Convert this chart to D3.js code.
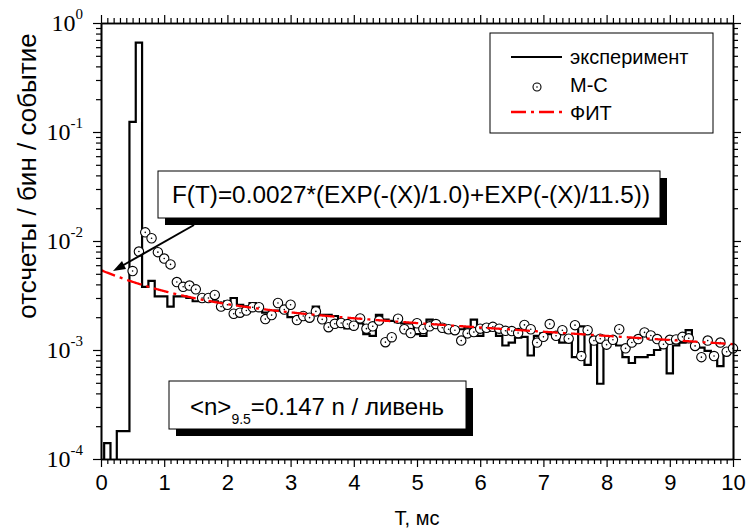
<!DOCTYPE html>
<html>
<head>
<meta charset="utf-8">
<script src="https://cdn.jsdelivr.net/npm/d3@7"></script>
<style>
body { margin: 0; background: #fff; }
text { font-family: "Liberation Sans", Arial, sans-serif; fill: #000; }
.ylab text { font-family: "Liberation Serif", "Times New Roman", serif; }
</style>
</head>
<body>
<div id="chart"></div>
<script>
// histogram bins of 0.1 ms, centred on k/10
var binCentres = d3.range(0, 101).map(function(k) { return k / 10; });
var histValues = [
	0, 1.4e-4, 0, 1.8e-4, 1.8e-4, 0.124, 0.66, 3.8e-3, 4.3e-3, 3.1e-3,
	3.1e-3, 2.5e-3, 3.1e-3, 3.1e-3, 3.0e-3, 2.8e-3, 2.8e-3, 2.9e-3, 2.8e-3, 2.7e-3,
	2.8e-3, 3.0e-3, 2.6e-3, 2.5e-3, 2.7e-3, 2.4e-3, 2.2e-3, 2.1e-3, 2.3e-3, 2.4e-3,
	2.0e-3, 2.0e-3, 2.1e-3, 2.1e-3, 2.5e-3, 2.1e-3, 2.1e-3, 2.05e-3, 1.8e-3, 1.58e-3,
	1.7e-3, 1.75e-3, 1.4e-3, 1.35e-3, 2.1e-3, 1.9e-3, 1.85e-3, 1.8e-3, 1.75e-3, 1.75e-3,
	1.4e-3, 1.35e-3, 1.9e-3, 1.75e-3, 1.7e-3, 1.45e-3, 1.6e-3, 1.55e-3, 1.6e-3, 1.9e-3,
	1.35e-3, 1.5e-3, 1.55e-3, 1.35e-3, 1.1e-3, 1.17e-3, 1.3e-3, 1.32e-3, 8.9e-4, 1.35e-3,
	1.42e-3, 1.4e-3, 1.3e-3, 1.17e-3, 1.3e-3, 8.6e-4, 1.65e-3, 7.3e-4, 1.3e-3, 4.9e-4,
	1.1e-3, 1.25e-3, 1.1e-3, 8.6e-4, 7.6e-4, 8.6e-4, 8.6e-4, 9.0e-4, 1.0e-3, 1.05e-3,
	6.1e-4, 1.1e-3, 1.17e-3, 1.52e-3, 1.1e-3, 1.05e-3, 9.8e-4, 8.6e-4, 7.1e-4, 9.4e-4,
	1.07e-3
];

// Monte-Carlo points
var mcTimes = d3.range(5, 101).map(function(k) { return k / 10; });
var mcValues = [
	5.3e-3, 8.0e-3, 1.2e-2, 1.06e-2, 7.9e-3, 6.9e-3,
	6.1e-3, 4.2e-3, 3.8e-3, 3.9e-3, 3.6e-3, 3.0e-3, 3.0e-3, 3.2e-3, 2.5e-3, 2.6e-3,
	2.15e-3, 2.2e-3, 2.3e-3, 2.47e-3, 2.47e-3, 1.92e-3, 2.09e-3, 2.7e-3, 2.35e-3, 2.6e-3,
	1.88e-3, 2.05e-3, 1.98e-3, 2.26e-3, 1.91e-3, 1.62e-3, 1.74e-3, 1.77e-3, 1.73e-3, 1.67e-3,
	1.95e-3, 1.57e-3, 1.65e-3, 1.86e-3, 1.18e-3, 1.31e-3, 1.94e-3, 1.55e-3, 1.43e-3, 1.76e-3,
	1.56e-3, 1.65e-3, 1.73e-3, 1.6e-3, 1.55e-3, 1.52e-3, 1.22e-3, 1.42e-3, 1.46e-3, 1.57e-3,
	1.6e-3, 1.63e-3, 1.57e-3, 1.5e-3, 1.49e-3, 1.43e-3, 1.7e-3, 1.55e-3, 1.17e-3, 1.32e-3,
	1.73e-3, 1.35e-3, 1.52e-3, 1.27e-3, 1.69e-3, 8.8e-4, 1.52e-3, 1.22e-3, 1.27e-3, 1.12e-3,
	1.24e-3, 1.55e-3, 1.035e-3, 1.17e-3, 1.26e-3, 1.45e-3, 1.36e-3, 1.26e-3, 1.13e-3, 1.24e-3,
	1.25e-3, 1.32e-3, 1.28e-3, 1.09e-3, 8.6e-4, 1.22e-3, 8.8e-4, 1.17e-3, 9.65e-4, 1.035e-3
];

// fit parameters, as printed on the chart
var fitAmp = 0.0027;
var fitTau1 = 1.0;
var fitTau2 = 11.5;

var xTicks = d3.range(0, 11);
var yTicks = [1, 1e-1, 1e-2, 1e-3, 1e-4];
var yExponents = ["0", "-1", "-2", "-3", "-4"];
var legendLabels = ["эксперимент", "М-С", "ФИТ"];
var formulaText = "F(T)=0.0027*(EXP(-(X)/1.0)+EXP(-(X)/11.5))";

var width = 747, height = 528;
var margin = {left: 101, top: 23, right: 14, bottom: 69};
var pw = width - margin.left - margin.right;
var ph = height - margin.top - margin.bottom;

var svg = d3.select("#chart").append("svg")
	.attr("width", width)
	.attr("height", height);

var x = d3.scaleLinear().domain([0, 10]).range([margin.left, margin.left + pw]);
var y = d3.scaleLog().domain([1e-4, 1]).range([margin.top + ph, margin.top]);

svg.append("clipPath").attr("id", "plotclip")
	.append("rect")
	.attr("x", margin.left).attr("y", margin.top)
	.attr("width", pw).attr("height", ph);

function yv(v) {
	return v > 0 ? y(v) : y.range()[0] + 2;
}

// histogram (step line)
var histPts = binCentres.map(function(c, i) { return [c - 0.05, histValues[i]]; });
histPts.push([10.05, histValues[histValues.length - 1]]);

var stepLine = d3.line()
	.x(function(d) { return x(d[0]); })
	.y(function(d) { return yv(d[1]); })
	.curve(d3.curveStepAfter);

svg.append("path")
	.attr("clip-path", "url(#plotclip)")
	.attr("d", stepLine(histPts))
	.attr("fill", "none")
	.attr("stroke", "#000")
	.attr("stroke-width", 2.2);

// M-C circles
var mc = svg.append("g").selectAll("g")
	.data(mcTimes.map(function(t, i) { return [t, mcValues[i]]; }))
	.enter().append("g")
	.attr("transform", function(d) { return "translate(" + x(d[0]) + "," + y(d[1]) + ")"; });
mc.append("circle").attr("r", 4.7).attr("fill", "#fff").attr("stroke", "#000").attr("stroke-width", 1.1);
mc.append("circle").attr("r", 0.8).attr("fill", "#000");

// fit curve
function fitF(t) {
	return fitAmp * (Math.exp(-t / fitTau1) + Math.exp(-t / fitTau2));
}
var fitT = d3.range(0, 1001).map(function(i) { return i / 100; });
svg.append("path")
	.attr("clip-path", "url(#plotclip)")
	.attr("d", d3.line()
		.x(function(t) { return x(t); })
		.y(function(t) { return y(fitF(t)); })(fitT))
	.attr("fill", "none")
	.attr("stroke", "#ff0000")
	.attr("stroke-width", 2.3)
	.attr("stroke-dasharray", "15,5,3,5");

// axes
var xMinor = d3.range(0, 101).filter(function(k) { return k % 10 != 0; }).map(function(k) { return k / 10; });
var yMinor = [];
[1e-4, 1e-3, 1e-2, 1e-1].forEach(function(dec) {
	for (var m = 2; m <= 9; m++) yMinor.push(dec * m);
});

function styleAxis(g) {
	g.select(".domain").attr("stroke-width", 1.6);
	g.selectAll(".tick line").attr("stroke-width", 1.2);
}

var bottomY = margin.top + ph, rightX = margin.left + pw;

svg.append("g").attr("transform", "translate(0," + bottomY + ")")
	.call(d3.axisBottom(x).tickValues(xMinor).tickSize(5).tickSizeOuter(0).tickFormat(""))
	.call(styleAxis);
var xAx = svg.append("g").attr("transform", "translate(0," + bottomY + ")")
	.call(d3.axisBottom(x).tickValues(xTicks).tickSize(8).tickSizeOuter(0).tickPadding(7).tickFormat(d3.format("d")))
	.call(styleAxis);
xAx.selectAll(".tick text").attr("font-size", 22).attr("font-family", "Liberation Sans, Arial, sans-serif").attr("fill", "#000");

svg.append("g").attr("transform", "translate(0," + margin.top + ")")
	.call(d3.axisTop(x).tickValues(xMinor).tickSize(5).tickSizeOuter(0).tickFormat(""))
	.call(styleAxis);
svg.append("g").attr("transform", "translate(0," + margin.top + ")")
	.call(d3.axisTop(x).tickValues(xTicks).tickSize(8).tickSizeOuter(0).tickFormat(""))
	.call(styleAxis);

svg.append("g").attr("transform", "translate(" + margin.left + ",0)")
	.call(d3.axisLeft(y).tickValues(yMinor).tickSize(5).tickSizeOuter(0).tickFormat(""))
	.call(styleAxis);
var yAx = svg.append("g").attr("class", "ylab").attr("transform", "translate(" + margin.left + ",0)")
	.call(d3.axisLeft(y).tickValues(yTicks).tickSize(8).tickSizeOuter(0).tickPadding(10).tickFormat(""))
	.call(styleAxis);
yAx.selectAll(".tick text").each(function(d, i) {
	var t = d3.select(this);
	t.attr("font-size", 24).attr("dy", "0.3em").attr("fill", "#000");
	t.append("tspan").text("10");
	t.append("tspan").attr("font-size", 15).attr("dy", "-0.75em").text(yExponents[i]);
});

svg.append("g").attr("transform", "translate(" + rightX + ",0)")
	.call(d3.axisRight(y).tickValues(yMinor).tickSize(5).tickSizeOuter(0).tickFormat(""))
	.call(styleAxis);
svg.append("g").attr("transform", "translate(" + rightX + ",0)")
	.call(d3.axisRight(y).tickValues(yTicks).tickSize(8).tickSizeOuter(0).tickFormat(""))
	.call(styleAxis);

// axis titles
svg.append("text")
	.attr("x", (margin.left + rightX) / 2)
	.attr("y", 525)
	.attr("text-anchor", "middle")
	.attr("font-size", 20)
	.text("T, мс");

svg.append("text")
	.attr("transform", "translate(36,176) rotate(-90)")
	.attr("text-anchor", "middle")
	.attr("font-size", 26)
	.text("отсчеты / бин / событие");

// legend
var lg = svg.append("g");
lg.append("rect").attr("x", 490).attr("y", 33).attr("width", 223).attr("height", 100)
	.attr("fill", "#fff").attr("stroke", "#000").attr("stroke-width", 1);
lg.append("line").attr("x1", 511).attr("x2", 562).attr("y1", 57).attr("y2", 57)
	.attr("stroke", "#000").attr("stroke-width", 2);
lg.append("circle").attr("cx", 537).attr("cy", 87).attr("r", 4).attr("fill", "#fff")
	.attr("stroke", "#000").attr("stroke-width", 1.1);
lg.append("circle").attr("cx", 537).attr("cy", 87).attr("r", 0.8).attr("fill", "#000");
lg.append("line").attr("x1", 511).attr("x2", 562).attr("y1", 112).attr("y2", 112)
	.attr("stroke", "#ff0000").attr("stroke-width", 2.3).attr("stroke-dasharray", "15,5,3,5");
lg.selectAll("text.lg").data(legendLabels).enter().append("text")
	.attr("x", 570)
	.attr("y", function(d, i) { return 64 + i * 28; })
	.attr("font-size", 20)
	.text(function(d) { return d; });

// formula box with shadow
svg.append("rect").attr("x", 165).attr("y", 178).attr("width", 502).attr("height", 47).attr("fill", "#000");
svg.append("rect").attr("x", 158).attr("y", 171).attr("width", 502).attr("height", 47)
	.attr("fill", "#fff").attr("stroke", "#000").attr("stroke-width", 1);
svg.append("text").attr("x", 172).attr("y", 203).attr("font-size", 23)
	.attr("textLength", 478).attr("lengthAdjust", "spacingAndGlyphs")
	.text(formulaText);

// arrow
svg.append("line").attr("x1", 194).attr("y1", 225).attr("x2", 120).attr("y2", 267)
	.attr("stroke", "#000").attr("stroke-width", 2);
svg.append("path").attr("d", "M113,271 L122,261 L126,269 Z").attr("fill", "#000");

// mean multiplicity box
svg.append("rect").attr("x", 176).attr("y", 388).attr("width", 297).attr("height", 48).attr("fill", "#000");
svg.append("rect").attr("x", 169).attr("y", 381).attr("width", 297).attr("height", 48)
	.attr("fill", "#fff").attr("stroke", "#000").attr("stroke-width", 1);
var nt = svg.append("text").attr("x", 190).attr("y", 415).attr("font-size", 24);
nt.append("tspan").text("<n>");
nt.append("tspan").attr("font-size", 14).attr("dy", 9).text("9.5");
nt.append("tspan").attr("dy", -9).text("=0.147 n / ливень");
</script>
</body>
</html>
